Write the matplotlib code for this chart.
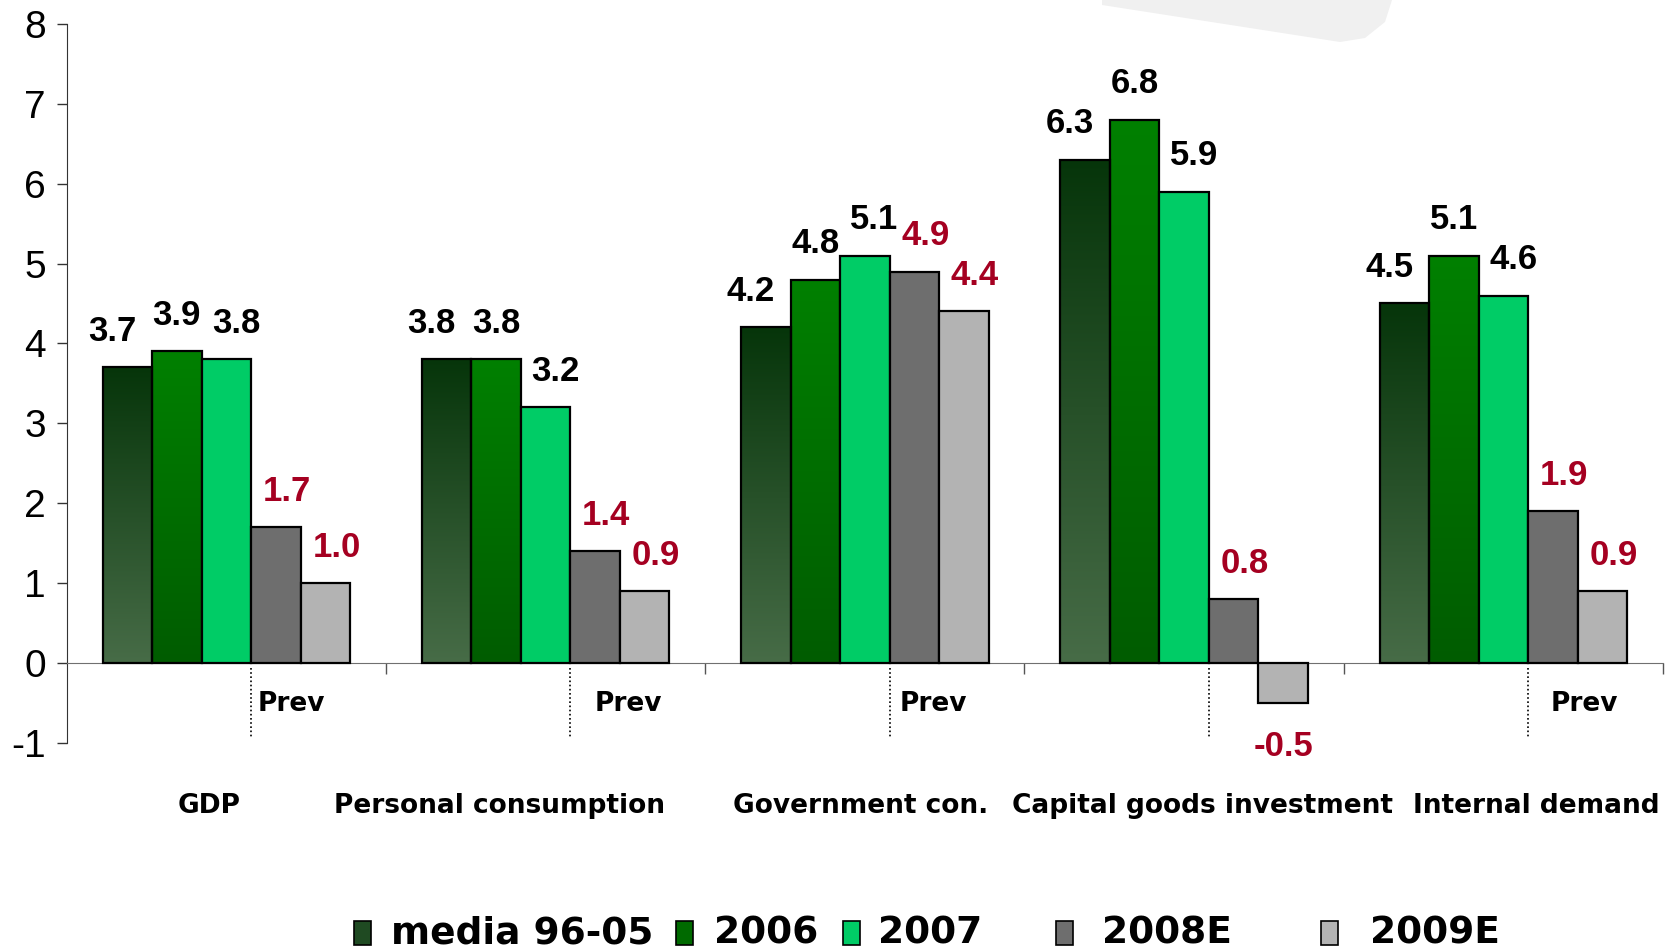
import numpy as np
import matplotlib
matplotlib.use("Agg")
import matplotlib.pyplot as plt
from matplotlib.colors import LinearSegmentedColormap
from matplotlib.patches import Rectangle, Polygon


categories = ["GDP", "Personal consumption", "Government con.",
              "Capital goods investment", "Internal demand"]
series = ["media 96-05", "2006", "2007", "2008E", "2009E"]

media_96_05 = [3.7, 3.8, 4.2, 6.3, 4.5]
y2006 = [3.9, 3.8, 4.8, 6.8, 5.1]
y2007 = [3.8, 3.2, 5.1, 5.9, 4.6]
y2008e = [1.7, 1.4, 4.9, 0.8, 1.9]
y2009e = [1.0, 0.9, 4.4, -0.5, 0.9]

# layout only: label nudges
cat_label_dx = [-0.055, -0.143, -0.013, 0.057, 0.103]   # category units
prev_dx = [0.02, 0.075, 0.03, None, 0.07]
val_dx = [-11, 0, 7, 8, 8]                                # points, per series

W, H = 1667, 949
fig = plt.figure(figsize=(W / 100, H / 100), dpi=100)
ax = fig.add_axes([66.7 / W, 1 - 742.7 / H, (1663 - 66.7) / W, (742.7 - 24) / H])

RED = "#A50021"
x = np.arange(len(categories))
bw = 0.155
values = [media_96_05, y2006, y2007, y2008e, y2009e]
solid = [None, None, "#00CC66", "#6E6E6E", "#B3B3B3"]
grads = {0: ("#476C47", "#06350A"), 1: ("#005C00", "#008000")}

for i, vals in enumerate(values):
    xs = x + (i - 2) * bw
    if solid[i] is not None:
        bars = ax.bar(xs, vals, bw, color=solid[i], edgecolor="black",
                      linewidth=1.6, zorder=3)
    else:
        bars = ax.bar(xs, vals, bw, color="none", edgecolor="black",
                      linewidth=1.6, zorder=3)
        cmap = LinearSegmentedColormap.from_list("g%d" % i, grads[i])
        grad = np.linspace(1, 0, 256).reshape(-1, 1)
        for b in bars:
            x0, h = b.get_x(), b.get_height()
            im = ax.imshow(grad, cmap=cmap, extent=[x0, x0 + bw, 0, h],
                           aspect="auto", origin="upper", zorder=2)
            im.set_clip_path(Rectangle((x0, 0), bw, h, transform=ax.transData))

    for xi, v in zip(xs, vals):
        col = "black" if i < 3 else RED
        dx = 0 if v < 0 else val_dx[i]
        dy = 19 if v >= 0 else -38
        ax.annotate("%.1f" % v, (xi, v), xytext=(dx, dy), textcoords="offset points",
                    ha="center", va="baseline", color=col, fontsize=25,
                    fontweight="bold", family="Liberation Sans", zorder=5)

# dotted "Prev" separators
for j in range(len(categories)):
    xd = x[j] + 0.5 * bw
    ax.plot([xd, xd], [-0.07, -0.94], color="black", lw=1.2, ls=(0, (1, 1.5)),
            zorder=4)
    if prev_dx[j] is not None:
        ax.text(xd + prev_dx[j], -0.52, "Prev", ha="left", va="center",
                fontsize=19, fontweight="bold", family="DejaVu Sans")
    ax.text(x[j] + cat_label_dx[j], -1.79, categories[j], ha="center", va="center",
            fontsize=19, fontweight="bold", family="DejaVu Sans")

ax.set_xlim(-0.5, 4.5)
ax.set_ylim(-1, 8)
ax.set_yticks(range(-1, 9))
ax.set_yticklabels([str(t) for t in range(-1, 9)], family="Liberation Sans", fontsize=28)
ax.tick_params(axis="y", direction="out", length=7, width=1, pad=8, color="#333333")
ax.set_xticks(np.arange(0.5, 5, 1))
ax.set_xticklabels([])
ax.tick_params(axis="x", direction="out", length=8, width=1, color="#555555")
for s in ["top", "right"]:
    ax.spines[s].set_visible(False)
ax.spines["bottom"].set_position(("data", 0))
ax.spines["bottom"].set_color("#707070")
ax.spines["left"].set_color("#333333")
ax.patch.set_alpha(0)

# faint watermark shape at top
fig.patches.append(Polygon([[1102 / W, 1.0], [1392 / W, 1.0], [1385 / W, 1 - 22 / H],
                            [1365 / W, 1 - 38 / H], [1340 / W, 1 - 42 / H],
                            [1102 / W, 1 - 5 / H]],
                           closed=True, transform=fig.transFigure,
                           facecolor="#F0F0F0", edgecolor="none", zorder=0))

# legend drawn by hand
leg_box_x = [354, 676, 843, 1056, 1321]
leg_txt_x = [391, 714, 878, 1102, 1370]
leg_cols = ["#1F4A22", "#006A00", "#00CC66", "#6E6E6E", "#B3B3B3"]
for k in range(5):
    r = Rectangle((leg_box_x[k] / W, 1 - 945 / H), 17 / W, 24 / H,
                  transform=fig.transFigure, facecolor=leg_cols[k],
                  edgecolor="black", linewidth=1.2)
    fig.patches.append(r)
    fig.text(leg_txt_x[k] / W, 1 - 933 / H, series[k], ha="left", va="center",
             fontsize=27, fontweight="bold", family="DejaVu Sans")

fig.savefig("out.png", dpi=100)
